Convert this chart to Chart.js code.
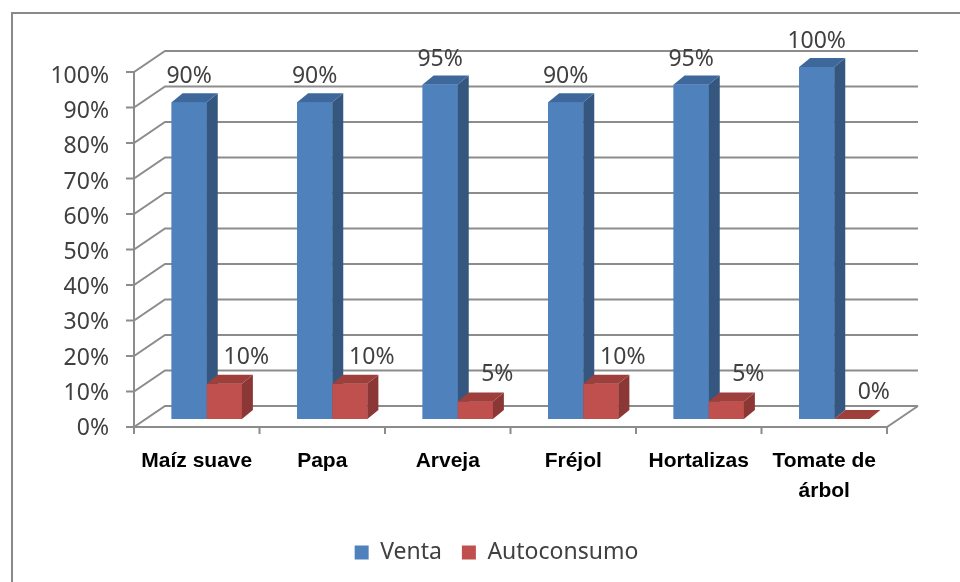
<!DOCTYPE html>
<html lang="es">
<head>
<meta charset="UTF-8">
<title>Venta y Autoconsumo</title>
<script src="https://cdn.jsdelivr.net/npm/chart.js"></script>
<style>
    html, body { margin: 0; padding: 0; background: #fff; overflow: hidden; }
    .chart-box { width: 960px; height: 582px; }
</style>
</head>
<body>
<div class="chart-box"><canvas id="chart" width="960" height="582"></canvas></div>
<script>
// data
const categories = ['Maíz suave', 'Papa', 'Arveja', 'Fréjol', 'Hortalizas', ['Tomate de', 'árbol']];
const venta = [90, 90, 95, 90, 95, 100];
const autoconsumo = [10, 10, 5, 10, 5, 0];
const yMax = 100;
const yStep = 10;
const pct = v => v + '%';

// 3D look (offsets relative to the bar plane = chart area)
const FRONT = { dx: -10, dy: 8 };
const BACK = { dx: 21, dy: -13 };
const BAR = { dx: 11, dy: -9 };
const WALL_K = 355 / 352;
const GRID = '#8c8c8c';
const faces = [
    { front: '#4f81bd', side: '#35577f', top: '#3e689b' },
    { front: '#c0504d', side: '#8b3735', top: '#9e3f3c' }
];

function poly(ctx, pts, color) {
    ctx.beginPath();
    ctx.moveTo(pts[0][0], pts[0][1]);
    for (let i = 1; i < pts.length; i++) ctx.lineTo(pts[i][0], pts[i][1]);
    ctx.closePath();
    ctx.fillStyle = color;
    ctx.fill();
}

const chart3d = {
    id: 'chart3d',
    afterLayout(chart) {
        // legend is centred a bit right of the canvas middle in the original
        if (chart.legend) chart.legend.left = 96;
    },
    beforeDraw(chart) {
        const ctx = chart.ctx;
        ctx.save();
        ctx.strokeStyle = '#8a8a8a';
        ctx.lineWidth = 2;
        ctx.strokeRect(12, 13, 1000, 1000);
        ctx.restore();
    },
    beforeDatasetsDraw(chart) {
        const { ctx, chartArea: a, scales: { x, y } } = chart;
        const frontY = v => a.bottom + FRONT.dy + (y.getPixelForValue(v) - a.bottom) * WALL_K;
        const backY = v => a.bottom + BACK.dy + (y.getPixelForValue(v) - a.bottom) * WALL_K;
        const fx0 = a.left + FRONT.dx, fx1 = a.right + FRONT.dx;
        const bx0 = a.left + BACK.dx, bx1 = a.right + BACK.dx;
        ctx.save();
        ctx.strokeStyle = GRID;
        ctx.lineWidth = 2;
        ctx.beginPath();
        y.ticks.forEach(t => {
            // back wall + side wall + tick mark
            ctx.moveTo(bx1, backY(t.value));
            ctx.lineTo(bx0, backY(t.value));
            ctx.lineTo(fx0, frontY(t.value));
            ctx.lineTo(fx0 - 8, frontY(t.value));
        });
        // front value axis
        ctx.moveTo(fx0, frontY(0));
        ctx.lineTo(fx0, frontY(yMax));
        // floor
        ctx.moveTo(fx0, frontY(0));
        ctx.lineTo(fx1, frontY(0));
        ctx.lineTo(bx1, backY(0));
        // category ticks
        const step = x.getPixelForValue(1) - x.getPixelForValue(0);
        for (let i = 0; i <= categories.length; i++) {
            const px = x.getPixelForValue(i) - step / 2 + FRONT.dx;
            ctx.moveTo(px, frontY(0));
            ctx.lineTo(px, frontY(0) + 7);
        }
        ctx.stroke();
        ctx.restore();
    },
    afterDatasetsDraw(chart) {
        const ctx = chart.ctx;
        ctx.save();
        for (let i = 0; i < categories.length; i++) {
            chart.data.datasets.forEach((ds, di) => {
                const el = chart.getDatasetMeta(di).data[i];
                const { x, y, base, width } = el.getProps(['x', 'y', 'base', 'width'], true);
                const l = x - width / 2, r = x + width / 2;
                const f = faces[di];
                ctx.fillStyle = f.front;
                ctx.fillRect(l, y, width, base - y);
                poly(ctx, [[r, y], [r + BAR.dx, y + BAR.dy], [r + BAR.dx, base + BAR.dy], [r, base]], f.side);
                poly(ctx, [[l, y], [l + BAR.dx, y + BAR.dy], [r + BAR.dx, y + BAR.dy], [r, y]], f.top);
            });
        }
        // data labels
        ctx.font = '23px "Noto Sans"';
        ctx.fillStyle = '#404040';
        ctx.textAlign = 'center';
        ctx.textBaseline = 'middle';
        chart.data.datasets.forEach((ds, di) => {
            chart.getDatasetMeta(di).data.forEach((el, i) => {
                const { x, y } = el.getProps(['x', 'y'], true);
                const off = di === 0 ? [0, -25.5] : [22, -26.5];
                ctx.fillText(pct(ds.data[i]), x + off[0], y + off[1]);
            });
        });
        ctx.restore();
    }
};

new Chart(document.getElementById('chart'), {
    type: 'bar',
    data: {
        labels: categories,
        datasets: [
            { label: 'Venta', data: venta, backgroundColor: faces[0].front },
            { label: 'Autoconsumo', data: autoconsumo, backgroundColor: faces[1].front }
        ]
    },
    options: {
        responsive: false,
        animation: false,
        layout: { padding: { left: 0, right: 63, top: 67, bottom: 8 } },
        datasets: { bar: { categoryPercentage: 0.56, barPercentage: 1 } },
        plugins: {
            legend: {
                position: 'bottom',
                labels: {
                    color: '#404040',
                    font: { family: 'Noto Sans', size: 23 },
                    boxWidth: 14,
                    boxHeight: 14,
                    padding: 20
                }
            },
            tooltip: { enabled: false }
        },
        scales: {
            x: {
                grid: { display: false, drawTicks: false },
                border: { display: false },
                ticks: {
                    color: '#000',
                    font: { family: 'Liberation Sans', size: 21, weight: 'bold', lineHeight: 1.42 },
                    padding: 27,
                    labelOffset: FRONT.dx,
                    maxRotation: 0,
                    autoSkip: false
                },
                afterFit(s) { s.height = 102; s.paddingLeft = 0; s.paddingRight = 0; }
            },
            y: {
                min: 0,
                max: yMax,
                grid: { display: false, drawTicks: false },
                border: { display: false },
                ticks: {
                    stepSize: yStep,
                    callback: pct,
                    color: '#404040',
                    font: { family: 'Noto Sans', size: 23 },
                    padding: 35,
                    labelOffset: FRONT.dy + 1.5
                },
                afterFit(s) { s.width = 144; s.paddingTop = 0; s.paddingBottom = 0; }
            }
        }
    },
    plugins: [chart3d]
});
</script>
</body>
</html>
